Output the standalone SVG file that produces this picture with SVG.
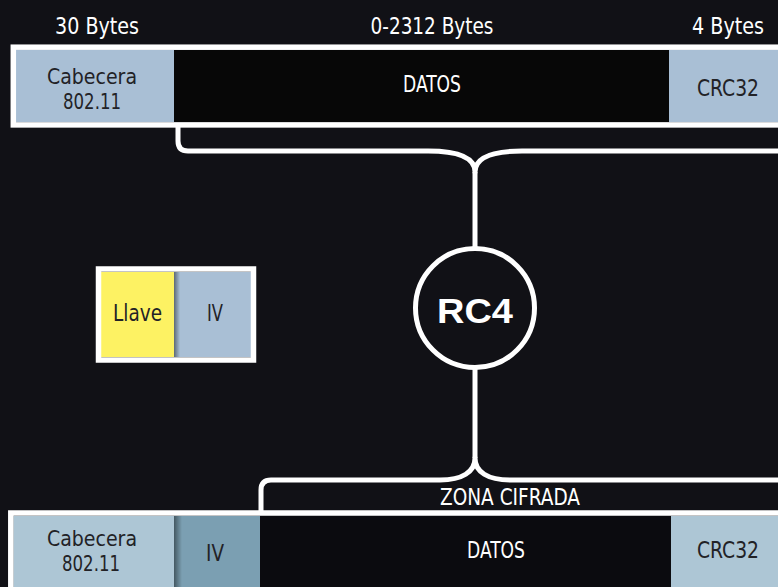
<svg xmlns="http://www.w3.org/2000/svg" width="778" height="587" viewBox="0 0 778 587">
  <defs>
    <linearGradient id="shadow" x1="0" y1="0" x2="1" y2="0">
      <stop offset="0" stop-color="#000" stop-opacity="0.45"/>
      <stop offset="1" stop-color="#000" stop-opacity="0"/>
    </linearGradient>
    <style>
      .t { font-family: "DejaVu Sans Condensed", "DejaVu Sans", sans-serif; text-anchor: middle; font-size: 23.5px; }
      .s { font-size: 20.5px; }
      .w { fill: #ffffff; }
      .d { fill: #222226; }
      .frame { fill: none; stroke: #ffffff; stroke-width: 5.5; }
      .line { fill: none; stroke: #ffffff; stroke-width: 5; stroke-linejoin: round; }
      .blue { fill: #a9bfd5; }
      .blue2 { fill: #adc6d5; }
    </style>
  </defs>
  <rect x="0" y="0" width="778" height="587" fill="#111116"/>

  <g id="labels">
    <text class="t w" x="97" y="34" textLength="84" lengthAdjust="spacingAndGlyphs">30 Bytes</text>
    <text class="t w" x="432" y="34" textLength="123" lengthAdjust="spacingAndGlyphs">0-2312 Bytes</text>
    <text class="t w" x="728" y="34" textLength="72" lengthAdjust="spacingAndGlyphs">4 Bytes</text>
  </g>

  <g id="frame-top">
    <rect class="blue" x="16" y="50" width="158" height="72"/>
    <rect x="174" y="50" width="495" height="72" fill="#070707"/>
    <rect class="blue" x="669" y="50" width="120" height="72"/>
    <rect class="frame" x="13.3" y="47.2" width="800" height="77.7"/>
    <text class="t s d" x="92" y="84" textLength="90" lengthAdjust="spacingAndGlyphs">Cabecera</text>
    <text class="t s d" x="92" y="108.5" textLength="58" lengthAdjust="spacingAndGlyphs">802.11</text>
    <text class="t w" x="432" y="92" textLength="58" lengthAdjust="spacingAndGlyphs">DATOS</text>
    <text class="t d" x="728" y="96" textLength="62" lengthAdjust="spacingAndGlyphs">CRC32</text>
  </g>

  <g id="key-iv">
    <rect x="101" y="272" width="73" height="85" fill="#fdf263"/>
    <rect class="blue" x="174" y="272" width="77" height="85"/>
    <rect x="174" y="272" width="6" height="85" fill="url(#shadow)"/>
    <rect class="frame" x="98.5" y="269" width="155" height="91"/>
    <text class="t d" x="137.5" y="321" textLength="49" lengthAdjust="spacingAndGlyphs">Llave</text>
    <text class="t d" x="215" y="321" textLength="16" lengthAdjust="spacingAndGlyphs">IV</text>
  </g>

  <g id="rc4">
    <circle cx="475" cy="308" r="59.5" fill="#111116" stroke="#ffffff" stroke-width="5"/>
    <text x="475" y="323" font-family="'Liberation Sans', Arial, sans-serif" font-weight="bold" font-size="35" fill="#ffffff" text-anchor="middle" textLength="76" lengthAdjust="spacingAndGlyphs">RC4</text>
  </g>

  <g id="frame-bottom">
    <rect class="blue2" x="13.3" y="516" width="161" height="80"/>
    <rect x="174" y="516" width="86" height="80" fill="#7b9fb2"/>
    <rect x="174" y="516" width="8" height="80" fill="url(#shadow)"/>
    <rect x="260" y="516" width="411" height="80" fill="#0b0b0f"/>
    <rect class="blue2" x="671" y="516" width="120" height="80"/>
    <rect class="frame" x="10.8" y="513" width="800" height="100"/>
    <text class="t s d" x="92" y="546" textLength="90" lengthAdjust="spacingAndGlyphs">Cabecera</text>
    <text class="t s d" x="91" y="570.5" textLength="58" lengthAdjust="spacingAndGlyphs">802.11</text>
    <text class="t d" x="215" y="561" textLength="18" lengthAdjust="spacingAndGlyphs">IV</text>
    <text class="t w" x="496" y="558" textLength="58" lengthAdjust="spacingAndGlyphs">DATOS</text>
    <text class="t d" x="728" y="558" textLength="62" lengthAdjust="spacingAndGlyphs">CRC32</text>
  </g>

  <g id="connectors">
    <path class="line" d="M178,127 V141 Q178,151 188,151 H428 C458,151 475,158 475,172 C475,158 492,151 522,151 H780"/>
    <path class="line" d="M475,172 V248"/>
    <path class="line" d="M475,368 V458"/>
    <path class="line" d="M261,511 V490 Q261,480 271,480 H440 C462,480 475,472 475,458 C475,472 488,480 510,480 H780"/>
    <text class="t w" x="510" y="505" textLength="140" lengthAdjust="spacingAndGlyphs">ZONA CIFRADA</text>
  </g>
</svg>
